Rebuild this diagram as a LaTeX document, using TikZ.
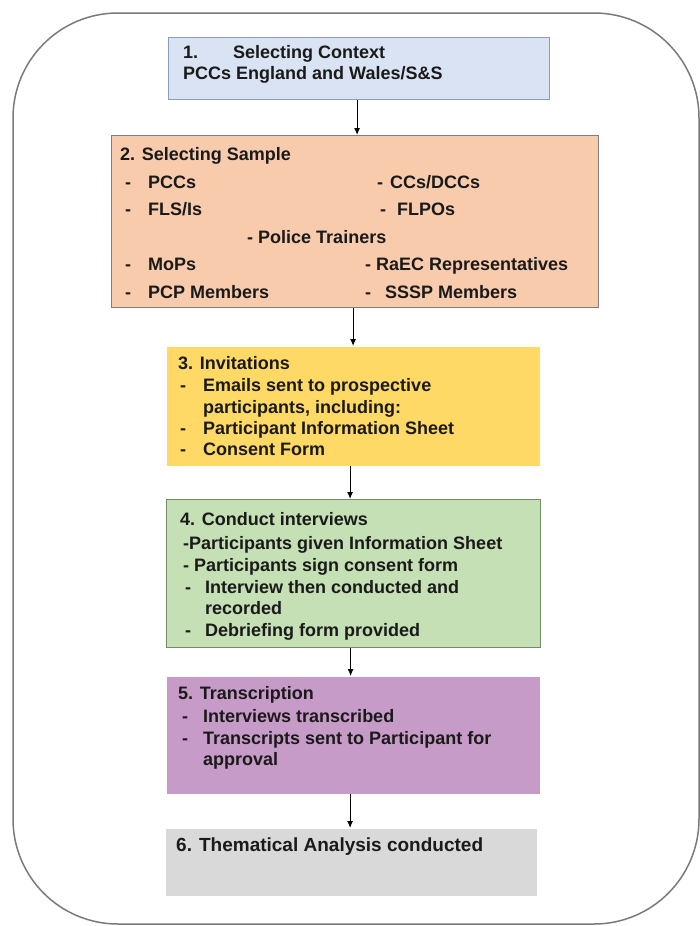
\documentclass[tikz,border=0pt]{standalone}
\usepackage{fontspec}
\setmainfont{Liberation Sans}
\usetikzlibrary{arrows.meta}
\definecolor{c1}{HTML}{DAE3F3}
\definecolor{c1d}{HTML}{8C9DBA}
\definecolor{c2}{HTML}{F8CBAD}
\definecolor{c2d}{HTML}{7F7F7F}
\definecolor{c3}{HTML}{FFD966}
\definecolor{c4}{HTML}{C5E0B4}
\definecolor{c4d}{HTML}{728A66}
\definecolor{c5}{HTML}{C79BC7}
\definecolor{c6}{HTML}{D9D9D9}
\definecolor{frame}{HTML}{7A7A7A}
\definecolor{ink}{HTML}{1A1A1A}
\tikzset{
  boxst/.style={rectangle, anchor=north west, inner sep=0pt, line width=1.2pt},
  tx/.style={anchor=base west, inner sep=0pt, text=ink, font=\fontsize{18}{21}\selectfont\bfseries},
  arr/.style={-{Latex[length=7pt,width=6pt]}, line width=1pt, black},
}
\begin{document}
\begin{tikzpicture}[x=1pt,y=-1pt]
\useasboundingbox (0,0) rectangle (700,926);
\draw[frame, line width=1.5pt, rounded corners=105pt] (13,13) rectangle (699,924);

% boxes
\node[boxst, fill=c1, draw=c1d, minimum width=381pt, minimum height=62pt] (b1) at (168,37) {};
\node[boxst, fill=c2, draw=c2d, minimum width=487pt, minimum height=172pt] (b2) at (111,135) {};
\node[boxst, fill=c3, minimum width=373pt, minimum height=119pt] (b3) at (166,346) {};
\node[boxst, fill=c4, draw=c4d, minimum width=374pt, minimum height=148pt] (b4) at (166,499) {};
\node[boxst, fill=c5, minimum width=373pt, minimum height=117pt] (b5) at (166,676) {};
\node[boxst, fill=c6, minimum width=371pt, minimum height=67pt] (b6) at (165,828) {};

% arrows
\draw[arr] ([xshift=-2pt]b1.south) -- ([xshift=-2pt]b1.south |- b2.north);
\draw[arr] ([xshift=-2pt]b2.south) -- ([xshift=-2pt]b2.south |- b3.north);
\draw[arr] ([xshift=-3pt]b3.south) -- ([xshift=-3pt]b3.south |- b4.north);
\draw[arr] ([xshift=-3pt]b4.south) -- ([xshift=-3pt]b4.south |- b5.north);
\draw[arr] ([xshift=-3pt]b5.south) -- ([xshift=-3pt]b5.south |- b6.north);

% box 1 text
\node[tx] (t1a) at (183,58) {1.};
\node[tx] (t1b) at (233,58) {Selecting Context};
\node[tx] (t1c) at (183,79) {PCCs England and Wales/S\&S};

% box 2 text
\node[tx] (t2) at (120,160) {2. Selecting Sample};
\node[tx] (d21) at (125,188) {-};
\node[tx] (t21) at (148,188) {PCCs};
\node[tx] (d22) at (377,188) {-};
\node[tx] (t22) at (390,188) {CCs/DCCs};
\node[tx] (d23) at (125,215) {-};
\node[tx] (t23) at (148,215) {FLS/Is};
\node[tx] (d24) at (380,215) {-};
\node[tx] (t24) at (397,215) {FLPOs};
\node[tx] (t25) at (247,243) {- Police Trainers};
\node[tx] (d26) at (125,270) {-};
\node[tx] (t26) at (148,270) {MoPs};
\node[tx] (t27) at (365,270) {- RaEC Representatives};
\node[tx] (d28) at (125,298) {-};
\node[tx] (t28) at (148,298) {PCP Members};
\node[tx] (d29) at (365,298) {-};
\node[tx] (t29) at (385,298) {SSSP Members};

% box 3 text
\node[tx] (t3) at (178,369) {3. Invitations};
\node[tx] (d31) at (180,391) {-};
\node[tx] (t31) at (203,391) {Emails sent to prospective};
\node[tx] (t32) at (203,413) {participants, including:};
\node[tx] (d33) at (180,434) {-};
\node[tx] (t33) at (203,434) {Participant Information Sheet};
\node[tx] (d34) at (180,455) {-};
\node[tx] (t34) at (203,455) {Consent Form};

% box 4 text
\node[tx] (t4) at (180,525) {4. Conduct interviews};
\node[tx] (t41) at (183,549) {-Participants given Information Sheet};
\node[tx] (t42) at (183,571) {- Participants sign consent form};
\node[tx] (d43) at (185,593) {-};
\node[tx] (t43) at (205,593) {Interview then conducted and};
\node[tx] (t44) at (205,614) {recorded};
\node[tx] (d45) at (185,636) {-};
\node[tx] (t45) at (205,636) {Debriefing form provided};

% box 5 text
\node[tx] (t5) at (178,699) {5. Transcription};
\node[tx] (d51) at (182,722) {-};
\node[tx] (t51) at (203,722) {Interviews transcribed};
\node[tx] (d52) at (182,744) {-};
\node[tx] (t52) at (203,744) {Transcripts sent to Participant for};
\node[tx] (t53) at (203,765) {approval};

% box 6 text
\node[tx, font=\fontsize{19}{22}\selectfont\bfseries] (t6) at (176,851) {6. Thematical Analysis conducted};
\end{tikzpicture}
\end{document}
